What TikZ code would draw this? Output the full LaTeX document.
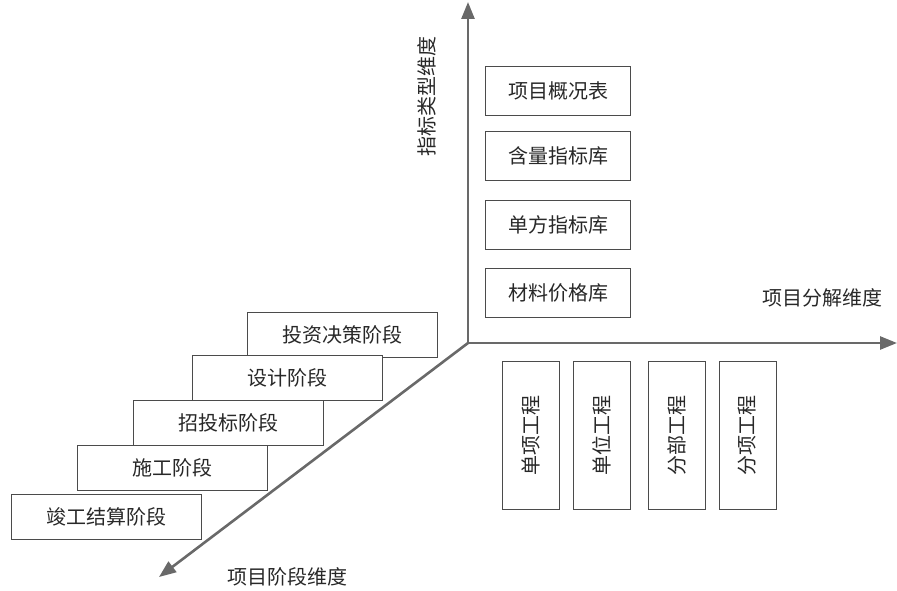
\documentclass[tikz,border=0pt]{standalone}
\usepackage{fontspec}
\newfontfamily\cjk{Noto Sans CJK SC}
\usetikzlibrary{arrows.meta}
\definecolor{axisgray}{RGB}{105,105,105}
\definecolor{boxgray}{RGB}{75,75,75}
\definecolor{txtgray}{RGB}{40,40,40}
\tikzset{
  axis/.style={draw=axisgray,line width=2.6pt,-{Triangle[length=17pt,width=13pt]}},
  hbox/.style={draw=boxgray,line width=1pt,fill=white,minimum width=190pt,minimum height=45pt,inner sep=0pt,font=\cjk\fontsize{20pt}{20pt}\selectfont,text=txtgray},
  tbox/.style={hbox,minimum width=145pt,minimum height=49pt},
  vbox/.style={draw=boxgray,line width=1pt,fill=white,minimum width=57pt,minimum height=148pt,inner sep=0pt},
  vtext/.style={rotate=90,font=\cjk\fontsize{20pt}{20pt}\selectfont,text=txtgray,inner sep=0pt},
  lab/.style={font=\cjk\fontsize{20pt}{20pt}\selectfont,text=txtgray,inner sep=0pt}
}
\begin{document}
\begin{tikzpicture}[x=1pt,y=-1pt]
\useasboundingbox (0,0) rectangle (897,591);
\coordinate (O) at (468,343);
\coordinate (ytip) at (468,2);
\coordinate (xtip) at (897,343);
\coordinate (ztip) at (159,577);
\draw[axis] (O) -- (ytip);
\draw[axis] (O) -- (xtip);
\draw[axis] (O) -- (ztip);
\node[lab,rotate=90] (ylab) at (427,97) {指标类型维度};
\node[lab] (xlab) at (822,298) {项目分解维度};
\node[lab] (zlab) at (287,577) {项目阶段维度};
% top boxes
\node[tbox] (t1) at (558,91) {项目概况表};
\node[tbox] (t2) at (558,156) {含量指标库};
\node[tbox] (t3) at (558,224.5) {单方指标库};
\node[tbox] (t4) at (558,292.5) {材料价格库};
% bottom vertical boxes
\node[vbox] (v1) at (531,435.5) {};
\node[vtext] at (v1) {单项工程};
\node[vbox] (v2) at (602,435.5) {};
\node[vtext] at (v2) {单位工程};
\node[vbox] (v3) at (677,435.5) {};
\node[vtext] at (v3) {分部工程};
\node[vbox] (v4) at (747.5,435.5) {};
\node[vtext] at (v4) {分项工程};
% stage boxes
\node[hbox] (s1) at (342.5,334.5) {投资决策阶段};
\node[hbox] (s2) at (287,377.5) {设计阶段};
\node[hbox] (s3) at (228.3,423.2) {招投标阶段};
\node[hbox] (s4) at (172.3,468.3) {施工阶段};
\node[hbox] (s5) at (106.2,516.8) {竣工结算阶段};
\end{tikzpicture}
\end{document}
